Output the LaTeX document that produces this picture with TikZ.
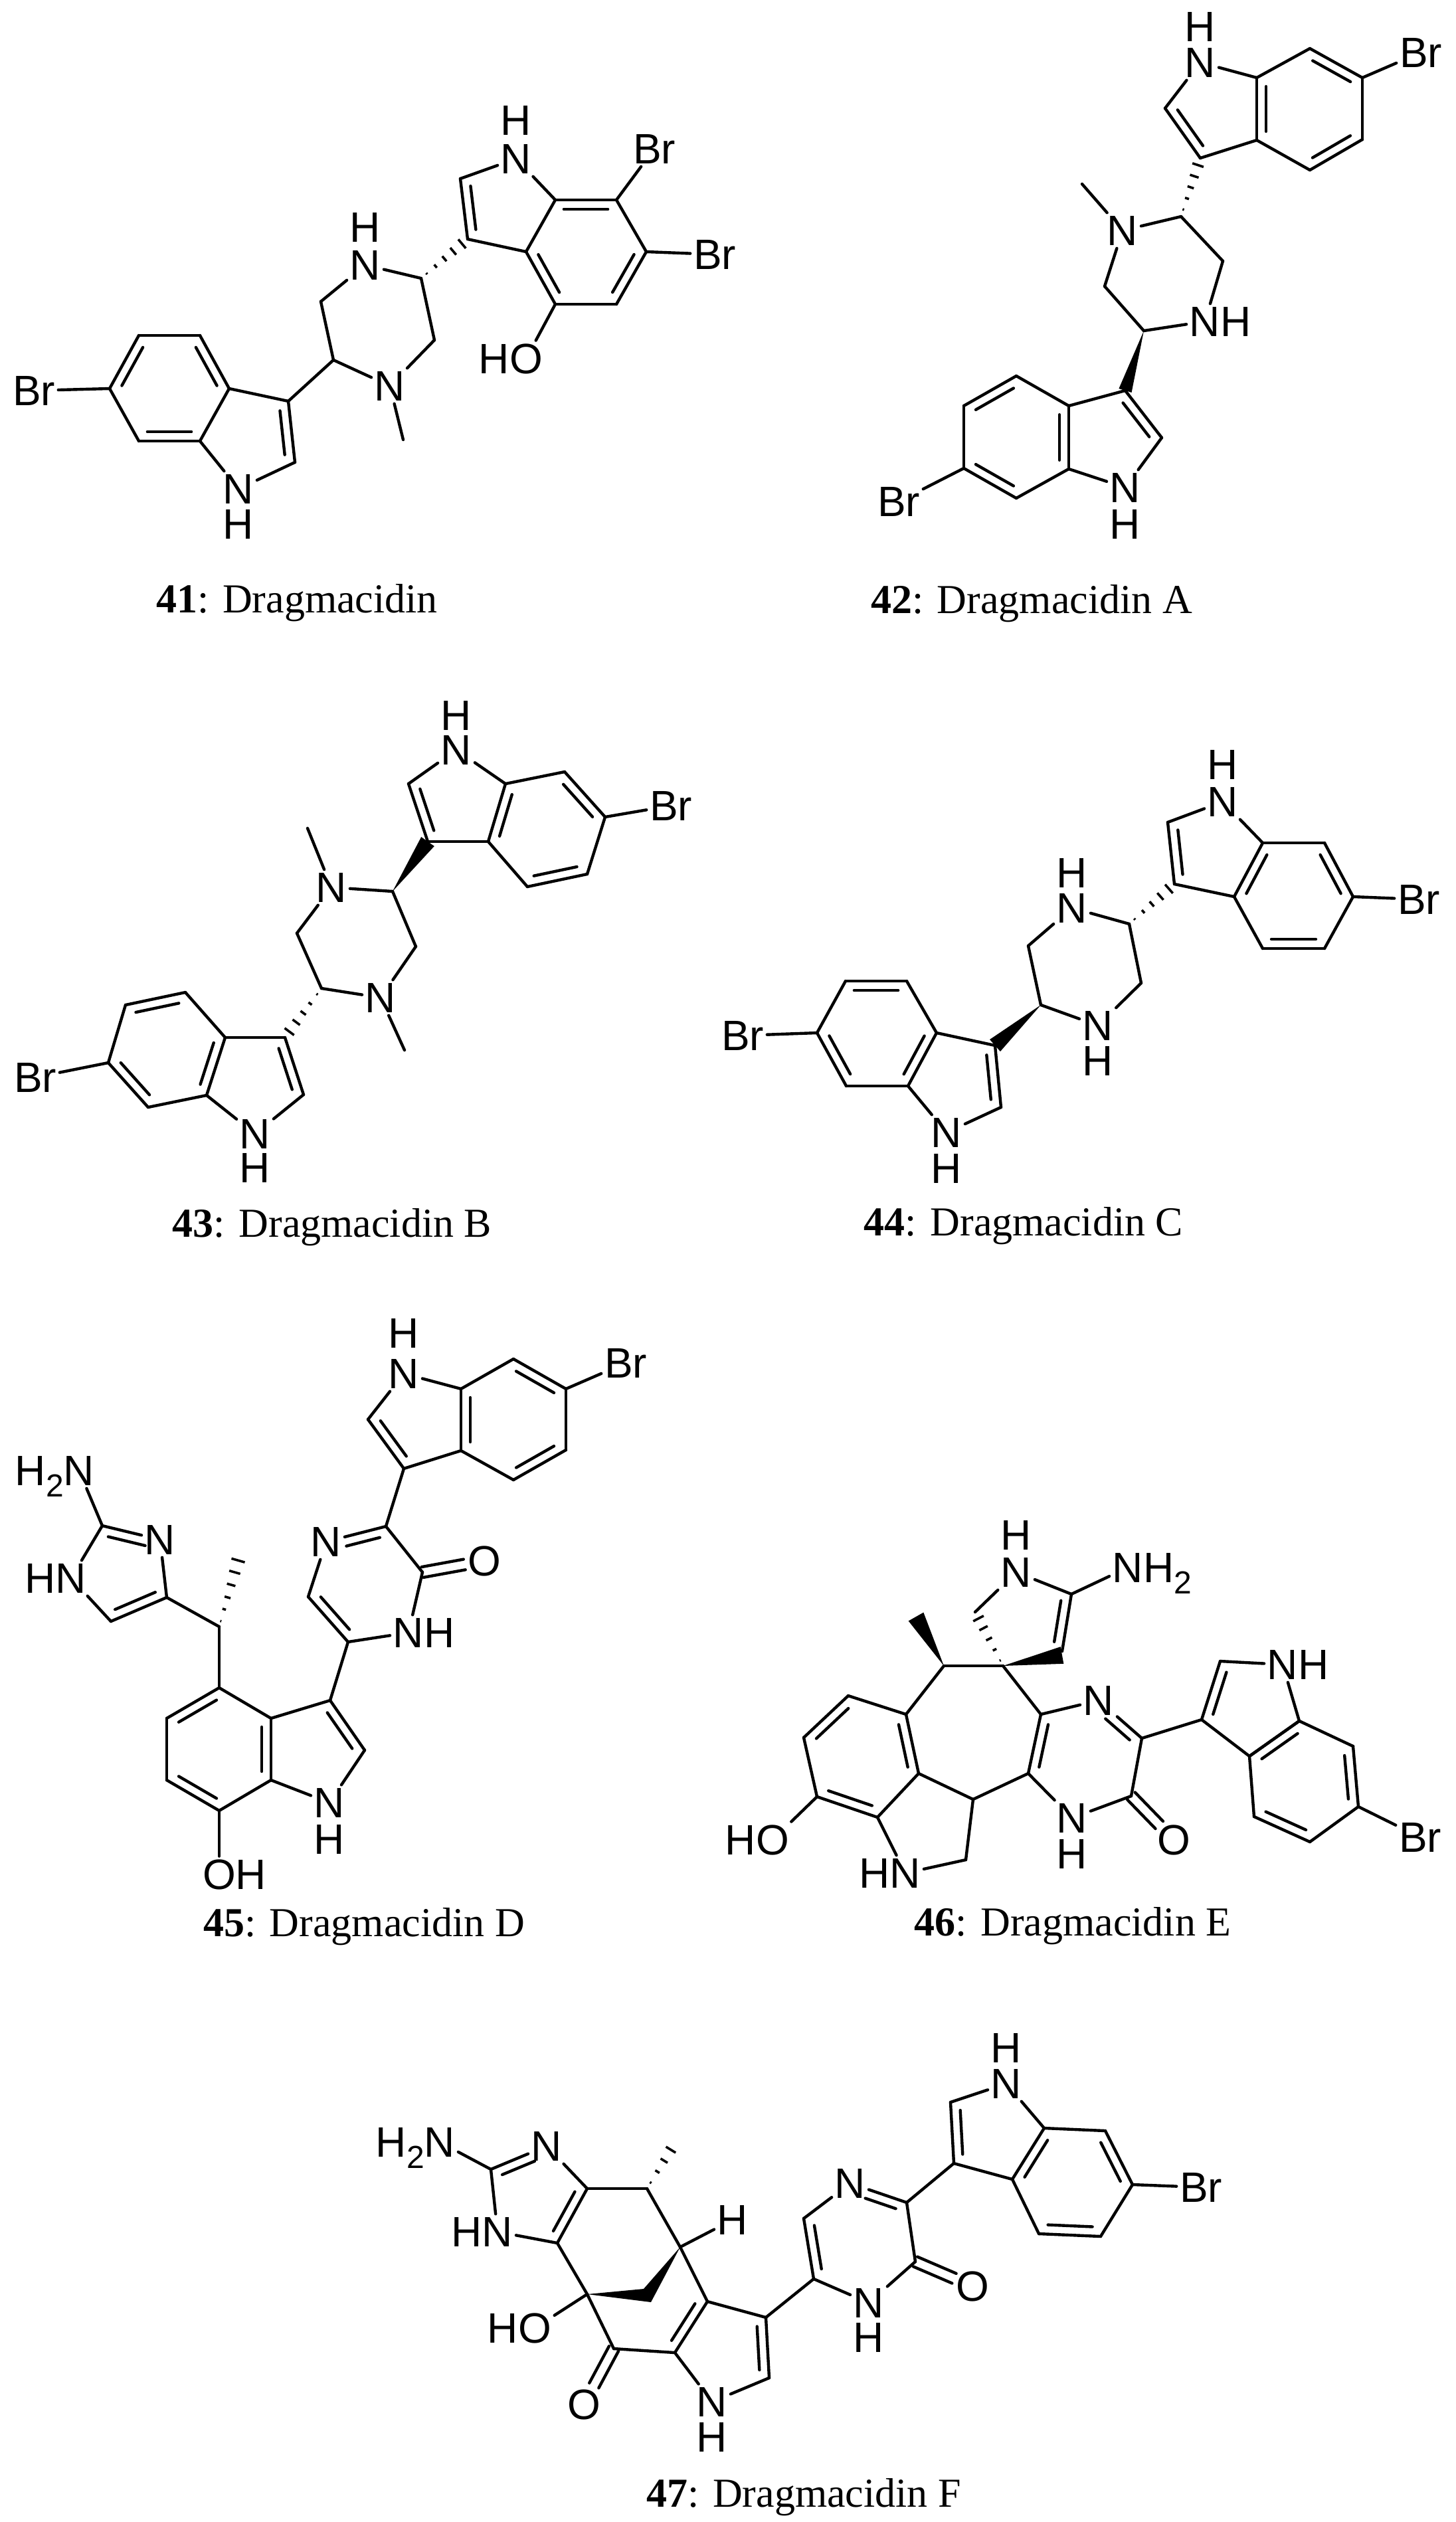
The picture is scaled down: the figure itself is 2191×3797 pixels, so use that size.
\documentclass[tikz,border=0pt]{standalone}
\usepackage{fontspec}
\usetikzlibrary{calc}
\setmainfont{Liberation Serif}
\newfontfamily\lsans{Liberation Sans}
\newcommand\hangR[1]{\smash{\rlap{#1}}}
\newcommand\hangL[1]{\smash{\llap{#1}}}
\newcommand\subtwo{\raisebox{-.28em}{\fontsize{24}{24}\selectfont 2}}
\tikzset{
 bond/.style={line width=2.2pt,line cap=round,line join=round,black},
 hashl/.style={line width=1.8pt,black},
 atom/.style={font=\lsans\fontsize{32}{32}\selectfont,inner sep=2.2pt,text=black},
 captionlabel/.style={font=\fontsize{31}{31}\selectfont,anchor=base,inner sep=0pt,text=black}
}
\newcommand\dblr[4]{\draw[bond] (#1)--(#2);
 \draw[bond] ($(#1)!#3!(#2)!7pt!-90:(#2)$) -- ($(#1)!#4!(#2)!7pt!-90:(#2)$);}
\newcommand\cdbl[4]{%
 \draw[bond] ($(#1)!#3!(#2)!4pt!-90:(#2)$) -- ($(#1)!#4!(#2)!4pt!-90:(#2)$);
 \draw[bond] ($(#1)!#3!(#2)!4pt!90:(#2)$) -- ($(#1)!#4!(#2)!4pt!90:(#2)$);}
\newcommand\solidw[3]{\fill[black] (#1) -- ($(#2)!#3!90:(#1)$) -- ($(#2)!#3!-90:(#1)$) -- cycle;}
\newcommand\hashw[4][.12,.31,.5,.69,.88]{\foreach \t in {#1}{%
 \pgfmathsetlengthmacro\hw{#4*\t}%
 \draw[hashl] ($(#2)!\t!(#3)!\hw!90:(#3)$) -- ($(#2)!\t!(#3)!\hw!-90:(#3)$);}}
\newcommand\pts[1]{\foreach \n/\x/\y in {#1}{\coordinate (\n) at (\x,\y);}}
\newcommand\bonds[1]{\foreach \pa/\pb in {#1}{\draw[bond] (\pa)--(\pb);}}
\newcommand\dbls[1]{\foreach \pa/\pb in {#1}{\dblr{\pa}{\pb}{.14}{.86}}}
\begin{document}
\begin{tikzpicture}[x=.5pt,y=-.5pt]
\useasboundingbox (0,0) rectangle (2191,3797);
\fill[white] (0,0) rectangle (2191,3797);
% ---------- 41
\pts{a1/165/585,a2/209/505,a3/301/505,a4/345/585,a5/301/664,a6/209/664,a7/434/604,a8/444/696,
 a9/502/542,a10/483/454,a11/634/419,a12/654/512,aMe/607/662,
 a13/704/360,a14/693/269,a15/836/301,a16/792/379,a17/836/458,a18/928/458,a19/973/379,a20/928/301}
\node[atom] (aBr1) at (51,588) {Br};
\node[atom] (aN1) at (359,736) {N};
\node[atom] (aH1) at (359,789) {H};
\node[atom] (aN2) at (550,399) {N};
\node[atom] (aH2) at (550,342) {H};
\node[atom] (aN3) at (587,581) {N};
\node[atom] (aN4) at (777,239) {N};
\node[atom] (aH4) at (777,181) {H};
\node[atom] (aBr2) at (985,224) {Br};
\node[atom] (aBr3) at (1076,383) {Br};
\node[atom] (aO) at (792,540) {\hangL{H}O};
\bonds{a1/aBr1,a2/a3,a4/a5,a6/a1,a4/a7,a5/aN1,a8/aN1,a7/a9,a9/a10,a10/aN2,aN2/a11,a11/a12,a12/aN3,aN3/a9,aN3/aMe,
 a13/a16,a14/aN4,aN4/a15,a15/a16,a17/a18,a19/a20,a20/aBr2,a19/aBr3,a17/aO}
\dbls{a1/a2,a3/a4,a5/a6,a7/a8,a13/a14,a15/a20,a19/a18,a17/a16}
\hashw{a11}{a13}{5pt}
\node[captionlabel] (aCap) at (447,922) {\textbf{41}: Dragmacidin};
% ---------- 42
\pts{b1/1754/163,b2/1807/238,b3/1892/211,b4/1892/117,b5/1972/73,b6/2051/117,b7/2051/210,b8/1972/256,
 b9/1778/326,bMe/1629/277,b10/1663/431,b11/1722/498,b12/1841/393,
 b13/1694/588,b14/1749/659,b15/1609/706,b16/1609/611,b17/1530/566,b18/1451/611,b19/1451/705,b20/1530/750}
\node[atom] (bN1) at (1807,94) {N};
\node[atom] (bH1) at (1807,40) {H};
\node[atom] (bBr1) at (2139,79) {Br};
\node[atom] (bN2) at (1690,347) {N};
\node[atom] (bN3) at (1814,484) {N\hangR{H}};
\node[atom] (bN4) at (1694,734) {N};
\node[atom] (bH4) at (1694,789) {H};
\node[atom] (bBr2) at (1353,755) {Br};
\bonds{bN1/b4,bN1/b1,b2/b3,b4/b5,b6/b7,b8/b3,b6/bBr1,b9/b12,b12/bN3,bN3/b11,b11/b10,b10/bN2,bN2/b9,bN2/bMe,
 b14/bN4,bN4/b15,b16/b13,b17/b16,b18/b19,b20/b15,b19/bBr2}
\dbls{b2/b1,b3/b4,b5/b6,b7/b8,b13/b14,b16/b15,b18/b17,b20/b19}
\hashw{b9}{b2}{5pt}
\solidw{b11}{b13}{5pt}
\node[captionlabel] (bCap) at (1553,923) {\textbf{42}: Dragmacidin A};
% ---------- 43
\pts{c1/615/1180,c2/644/1267,c3/735/1267,c4/761/1180,c5/850/1162,c6/911/1230,c7/884/1316,c8/794/1335,
 c9/591/1342,cMeA/463/1247,c10/447/1405,c11/484/1488,cMeB/609/1581,c12/626/1425,
 c13/429/1562,c14/457/1648,c15/311/1649,c16/339/1562,c17/279/1494,c18/189/1513,c19/163/1600,c20/223/1667}
\node[atom] (cN1) at (687,1129) {N};
\node[atom] (cH1) at (687,1077) {H};
\node[atom] (cBr1) at (1010,1213) {Br};
\node[atom] (cN2) at (499,1336) {N};
\node[atom] (cN3) at (573,1502) {N};
\node[atom] (cN4) at (384,1707) {N};
\node[atom] (cH4) at (384,1758) {H};
\node[atom] (cBr2) at (53,1622) {Br};
\bonds{cN1/c1,cN1/c4,c2/c3,c4/c5,c6/c7,c8/c3,c6/cBr1,c9/cN2,cN2/cMeA,cN2/c10,c10/c11,c11/cN3,cN3/cMeB,cN3/c12,c12/c9,
 c14/cN4,cN4/c15,c16/c13,c16/c17,c18/c19,c20/c15,c19/cBr2}
\dbls{c2/c1,c3/c4,c5/c6,c7/c8,c13/c14,c16/c15,c18/c17,c20/c19}
\solidw{c9}{c2}{6pt}
\hashw{c11}{c13}{5pt}
\node[captionlabel] (cCap) at (500,1862) {\textbf{43}: Dragmacidin B};
% ---------- 44
\pts{d1/1758/1238,d2/1768/1331,d3/1858/1350,d4/1901/1269,d5/1994/1269,d6/2037/1350,d7/1994/1428,d8/1901/1428,
 d9/1700/1391,d10/1548/1424,d11/1567/1513,d12/1718/1480,
 d13/1498/1574,d14/1507/1667,d15/1367/1635,d16/1410/1555,d17/1365/1477,d18/1273/1477,d19/1230/1555,d20/1274/1635}
\node[atom] (dN1) at (1841,1207) {N};
\node[atom] (dH1) at (1841,1151) {H};
\node[atom] (dBr1) at (2136,1354) {Br};
\node[atom] (dN2) at (1614,1367) {N};
\node[atom] (dH2) at (1614,1314) {H};
\node[atom] (dN3) at (1653,1544) {N};
\node[atom] (dH3) at (1653,1597) {H};
\node[atom] (dN4) at (1425,1705) {N};
\node[atom] (dH4) at (1425,1759) {H};
\node[atom] (dBr2) at (1118,1559) {Br};
\bonds{dN1/d1,dN1/d4,d2/d3,d4/d5,d6/d7,d8/d3,d6/dBr1,d9/dN2,dN2/d10,d10/d11,d11/dN3,dN3/d12,d12/d9,
 d14/dN4,dN4/d15,d16/d13,d16/d17,d18/d19,d20/d15,d19/dBr2}
\dbls{d2/d1,d3/d4,d5/d6,d7/d8,d13/d14,d16/d15,d18/d17,d20/d19}
\hashw{d9}{d2}{5pt}
\solidw{d11}{d13}{6pt}
\node[captionlabel] (dCap) at (1541,1860) {\textbf{44}: Dragmacidin C};
% ---------- 45
\pts{e1/554/2137,e2/608/2211,e3/694/2184,e4/694/2091,e5/773/2046,e6/852/2091,e7/852/2183,e8/773/2228,
 e9/581/2298,e10/464/2404,e11/524/2472,e12/636/2367,
 e13/497/2560,e14/549/2635,e15/408/2680,e16/408/2587,e17/330/2541,e18/251/2587,e19/251/2680,e20/330/2726,
 e21/330/2449,e22/251/2405,eMe/360/2344,e23/154/2297,e24/167/2441}
\node[atom] (eN1) at (608,2068) {N};
\node[atom] (eH1) at (608,2007) {H};
\node[atom] (eBr) at (942,2052) {Br};
\node[atom] (eN2) at (491,2321) {N};
\node[atom] (eN3) at (615,2458) {N\hangR{H}};
\node[atom] (eO1) at (729,2350) {O};
\node[atom] (eN4) at (496,2714) {N};
\node[atom] (eH4) at (496,2769) {H};
\node[atom] (eO2) at (330,2822) {O\hangR{H}};
\node[atom] (eN5) at (241,2318) {N};
\node[atom] (eN6) at (107,2376) {\hangL{H}N};
\node[atom] (eN7) at (119,2214) {\hangL{H\subtwo}N};
\bonds{eN1/e1,eN1/e4,e2/e3,e4/e5,e6/e7,e8/e3,e6/eBr,e2/e9,e9/e12,eN2/e10,e11/eN3,eN3/e12,
 e11/e13,e14/eN4,eN4/e15,e16/e13,e17/e16,e18/e19,e20/e15,e20/eO2,
 e17/e21,e21/e22,e22/eN5,e23/eN6,eN6/e24,e23/eN7}
\dbls{e2/e1,e3/e4,e5/e6,e7/e8,e11/e10,e13/e14,e16/e15,e18/e17,e20/e19,e22/e24}
\dblr{eN2}{e9}{.3}{.86}
\dblr{e23}{eN5}{.14}{.78}
\cdbl{e12}{eO1}{0}{.68}
\hashw[.08,.25,.42,.6,.78,.95]{e21}{eMe}{5.5pt}
\node[captionlabel] (eCap) at (548,2915) {\textbf{45}: Dragmacidin D};
% ---------- 46
\pts{f1/1468/2427,f2/1510/2508,f3/1599/2486,f4/1613/2400,f5/1421/2508,fMe/1379/2434,
 f6/1364/2581,f7/1383/2670,f8/1465/2709,f9/1548/2670,f10/1567/2581,
 f11/1277/2553,f12/1210/2616,f13/1230/2705,f14/1321/2736,f15/1454/2800,
 f16/1719/2617,f17/1703/2704,f18/1809/2589,f19/1837/2501,f20/1956/2591,f21/1881/2644,
 f22/2037/2629,f23/2045/2720,f24/1972/2773,f25/1888/2735,fV/1599/2492}
\node[atom] (fN1) at (1530,2367) {N};
\node[atom] (fH1) at (1530,2311) {H};
\node[atom] (fN2) at (1698,2360) {N\hangR{H\subtwo}};
\node[atom] (fO1) at (1163,2770) {\hangL{H}O};
\node[atom] (fN3) at (1363,2820) {\hangL{H}N};
\node[atom] (fN4) at (1654,2560) {N};
\node[atom] (fN5) at (1614,2737) {N};
\node[atom] (fH5) at (1614,2791) {H};
\node[atom] (fO2) at (1767,2770) {O};
\node[atom] (fN6) at (1931,2506) {N\hangR{H}};
\node[atom] (fBr) at (2138,2766) {Br};
\bonds{fN1/f1,f4/fN1,f4/fN2,f5/f2,f5/f6,f2/f10,f6/f11,f12/f13,f13/fO1,f14/f7,f14/fN3,fN3/f15,f15/f8,f7/f8,f8/f9,
 f10/fN4,f16/f17,f17/fN5,fN5/f9,f16/f18,f19/fN6,fN6/f20,f20/f21,f18/f21,f20/f22,f23/f24,f25/f21,f23/fBr}
\dbls{f4/f3,f9/f10,f6/f7,f12/f11,f14/f13,f18/f19,f21/f20,f22/f23,f24/f25}
\dblr{fN4}{f16}{.3}{.86}
\cdbl{f17}{fO2}{0}{.66}
\hashw[.1,.3,.5,.7,.88]{f2}{f1}{5pt}
\solidw{f2}{fV}{6.5pt}
\solidw{f5}{fMe}{6.5pt}
\node[captionlabel] (fCap) at (1615,2914) {\textbf{46}: Dragmacidin E};
% ---------- 47
\pts{g1/739/3266,g2/884/3295,g3/839/3377,g4/974/3295,gMe/1020/3220,g5/1024/3383,g6/884/3454,g7/924/3536,g8/1016/3542,
 g9/1065/3465,g10/1153/3489,g11/1158/3580,gW1/969/3446,gW2/980/3466,
 g12/1225/3431,g13/1210/3340,g14/1365/3316,g15/1378/3405,
 g16/1436/3257,g17/1431/3165,g18/1572/3204,g19/1524/3281,g20/1664/3208,g21/1705/3289,g22/1657/3367,g23/1564/3363}
\node[atom] (gN1) at (662,3225) {\hangL{H\subtwo}N};
\node[atom] (gN2) at (823,3231) {N};
\node[atom] (gN3) at (749,3360) {\hangL{H}N};
\node[atom] (gH1) at (1103,3342) {H};
\node[atom] (gO1) at (805,3505) {\hangL{H}O};
\node[atom] (gO2) at (879,3620) {O};
\node[atom] (gN4) at (1072,3616) {N};
\node[atom] (gH4) at (1072,3669) {H};
\node[atom] (gN5) at (1280,3287) {N};
\node[atom] (gN6) at (1308,3467) {N};
\node[atom] (gH6) at (1308,3519) {H};
\node[atom] (gO3) at (1464,3442) {O};
\node[atom] (gN7) at (1515,3137) {N};
\node[atom] (gH7) at (1515,3083) {H};
\node[atom] (gBr) at (1808,3293) {Br};
\bonds{g1/gN1,gN2/g2,g1/gN3,gN3/g3,g2/g4,g4/g5,g5/gH1,g3/g6,g6/g7,g6/gO1,g5/g9,g7/g8,g8/gN4,gN4/g11,g9/g10,
 g10/g12,g13/gN5,g14/g15,g15/gN6,gN6/g12,g14/g16,g17/gN7,gN7/g18,g19/g16,g20/g18,g21/g22,g23/g19,g21/gBr}
\dbls{g2/g3,g9/g8,g10/g11,g12/g13,g16/g17,g19/g18,g20/g21,g22/g23}
\dblr{g1}{gN2}{.14}{.72}
\dblr{gN5}{g14}{.32}{.86}
\cdbl{g7}{gO2}{0}{.66}
\cdbl{g15}{gO3}{0}{.68}
\hashw[.12,.34,.56,.78,1]{g4}{gMe}{5.5pt}
\fill[black] (g6) -- (gW1) -- (g5) -- (gW2) -- cycle;
\node[captionlabel] (gCap) at (1210,3774) {\textbf{47}: Dragmacidin F};
\end{tikzpicture}
\end{document}
